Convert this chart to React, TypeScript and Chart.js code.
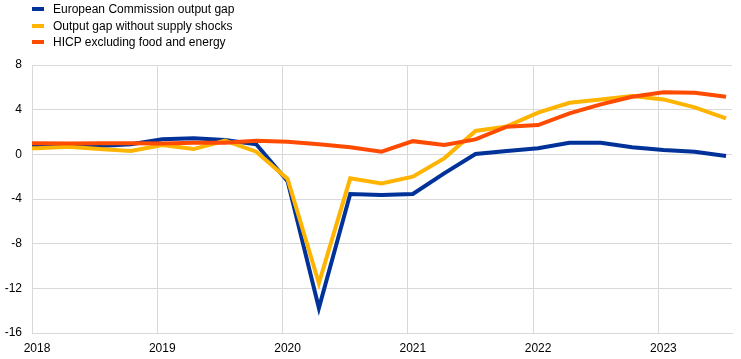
import React, { useEffect, useRef } from "react";
import { Chart, registerables } from "chart.js";

Chart.register(...registerables);

// Quarters from 2017Q4 to 2023Q3
const quarters: string[] = [
  "2017Q4",
  "2018Q1", "2018Q2", "2018Q3", "2018Q4",
  "2019Q1", "2019Q2", "2019Q3", "2019Q4",
  "2020Q1", "2020Q2", "2020Q3", "2020Q4",
  "2021Q1", "2021Q2", "2021Q3", "2021Q4",
  "2022Q1", "2022Q2", "2022Q3", "2022Q4",
  "2023Q1", "2023Q2", "2023Q3",
];

const ecOutputGap: number[] = [
  0.83,
  0.83, 0.83, 0.74, 0.9,
  1.34, 1.43, 1.28, 0.9,
  -2.4, -13.76, -3.55, -3.64,
  -3.55, -1.7, 0.03, 0.3,
  0.54, 1.04, 1.04, 0.63,
  0.39, 0.24, -0.15,
];

const gapNoSupply: number[] = [
  0.54,
  0.54, 0.68, 0.47, 0.3,
  0.83, 0.47, 1.22, 0.24,
  -2.2, -11.55, -2.15, -2.6,
  -2.0, -0.36, 2.09, 2.5,
  3.73, 4.62, 4.92, 5.22,
  4.92, 4.2, 3.22,
];

const hicpExFoodEnergy: number[] = [
  1.0,
  1.0, 0.97, 1.0, 1.0,
  0.97, 1.03, 1.03, 1.22,
  1.13, 0.9, 0.63, 0.23,
  1.18, 0.83, 1.34, 2.47,
  2.62, 3.67, 4.47, 5.16,
  5.55, 5.52, 5.16,
];

const seriesNames: string[] = [
  "European Commission output gap",
  "Output gap without supply shocks",
  "HICP excluding food and energy",
];
const seriesColors: string[] = ["#003299", "#FFB400", "#FF4B00"];

const yTicks: number[] = [-16, -12, -8, -4, 0, 4, 8];
const firstYear = 2018;

// position of each quarter on a quarterly linear axis (0 = start of 2018)
function quarterPos(q: string): number {
  const y = parseInt(q.slice(0, 4), 10);
  const n = parseInt(q.slice(5), 10);
  return (y - firstYear) * 4 + (n - 1) + 0.16;
}

function toPoints(vals: number[]) {
  return vals.map((v, i) => ({ x: quarterPos(quarters[i]), y: v }));
}

export default function App() {
  const ref = useRef<HTMLCanvasElement | null>(null);

  useEffect(() => {
    if (!ref.current) return;
    const font = { family: "'Liberation Sans', Arial, sans-serif", size: 12 };
    const chart = new Chart(ref.current, {
      type: "line",
      data: {
        datasets: [
          { label: seriesNames[0], data: toPoints(ecOutputGap), borderColor: seriesColors[0], order: 3 },
          { label: seriesNames[1], data: toPoints(gapNoSupply), borderColor: seriesColors[1], order: 2 },
          { label: seriesNames[2], data: toPoints(hicpExFoodEnergy), borderColor: seriesColors[2], order: 1 },
        ].map((d) => ({
          ...d,
          borderWidth: 4,
          pointRadius: 0,
          tension: 0,
          fill: false,
        })),
      },
      options: {
        responsive: false,
        animation: false,
        layout: { padding: { top: 65, right: 9, left: 0, bottom: 0 } },
        plugins: { legend: { display: false }, tooltip: { enabled: false } },
        scales: {
          x: {
            type: "linear",
            min: 0,
            max: 22.35,
            afterFit: (s: any) => {
              s.height = 26;
            },
            ticks: {
              stepSize: 4,
              includeBounds: false,
              labelOffset: 5,
              padding: 8,
              maxRotation: 0,
              color: "#000",
              font,
              callback: (v: any) => String(firstYear + Number(v) / 4),
            },
            grid: { color: "#d9d9d9", drawTicks: false, lineWidth: 1 },
            border: { color: "#d9d9d9" },
          },
          y: {
            min: yTicks[0],
            max: yTicks[yTicks.length - 1],
            afterFit: (s: any) => {
              s.width = 32;
            },
            ticks: {
              stepSize: 4,
              padding: 10,
              color: "#000",
              font,
            },
            grid: { color: "#d9d9d9", drawTicks: false, lineWidth: 1 },
            border: { display: false },
          },
        },
      },
    });
    return () => chart.destroy();
  }, []);

  return (
    <div style={{ position: "absolute", left: 0, top: 0, width: 741, height: 359 }}>
      <canvas ref={ref} width={741} height={359} style={{ display: "block" }} />
      <div
        style={{
          position: "absolute",
          left: 32,
          top: 1,
          fontFamily: "'Liberation Sans', Arial, sans-serif",
          fontSize: 12,
          color: "#000",
        }}
      >
        {seriesNames.map((n, i) => (
          <div key={n} style={{ display: "flex", alignItems: "center", height: 16.5 }}>
            <span
              style={{
                display: "inline-block",
                width: 12,
                height: 4,
                background: seriesColors[i],
                marginRight: 9,
              }}
            />
            <span>{n}</span>
          </div>
        ))}
      </div>
    </div>
  );
}
